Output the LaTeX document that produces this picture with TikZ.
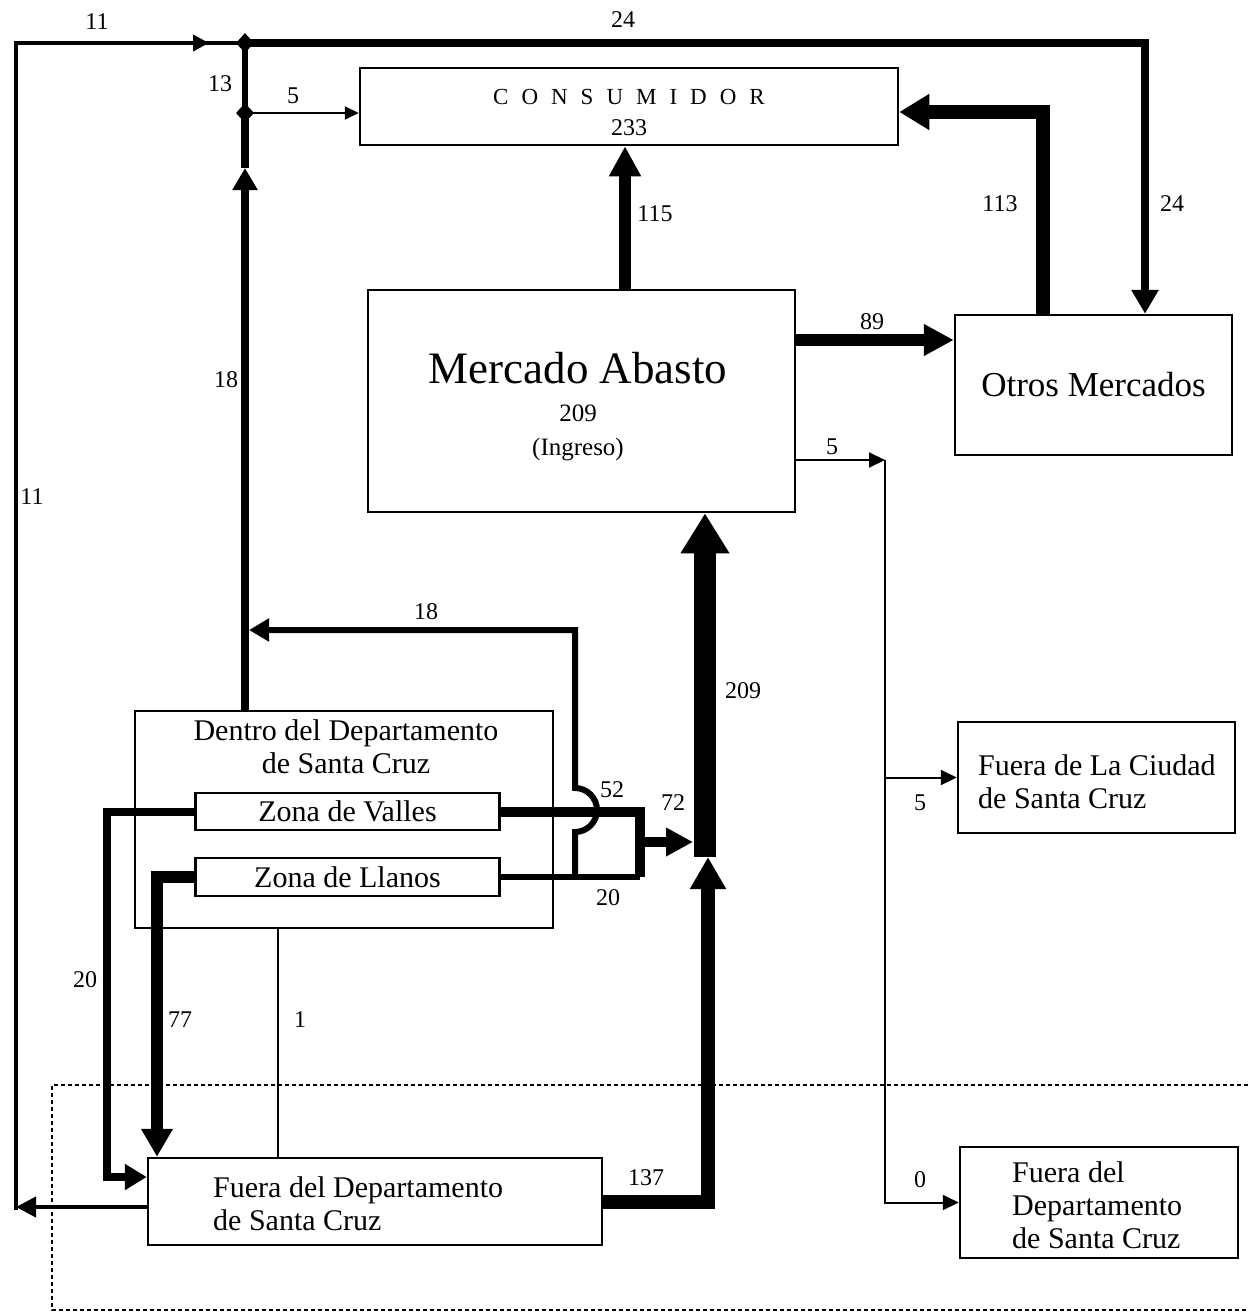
\documentclass[tikz,border=0pt]{standalone}
\usepackage{fontspec}
\setmainfont{Liberation Serif}
\usetikzlibrary{arrows.meta,shapes.geometric,calc}
\newcommand\cspc{\kern 13pt}
\begin{document}
\begin{tikzpicture}[x=1pt,y=-1pt,line join=miter,
  box/.style={draw,line width=2.5,inner sep=0},
  lab/.style={font=\fontsize{24}{28}\selectfont,inner sep=0},
  btext/.style={font=\fontsize{30}{33}\selectfont,inner sep=0},
  fl/.style={line width=#1},
  tip/.style 2 args={-{Triangle[length=#1pt,width=#2pt]}},
  junct/.style={diamond,fill,inner sep=0,minimum width=18,minimum height=20},
  frame/.style={line width=1.5,dash pattern=on 4pt off 3pt}]
\useasboundingbox (0,0) rectangle (1248,1314);

% ---------- boxes ----------
\node[box,minimum width=538,minimum height=77] (cons) at (629,106.5) {};
\node[inner sep=0,font=\fontsize{23}{26}\selectfont] (consT) at (629,97) {C\cspc O\cspc N\cspc S\cspc U\cspc M\cspc I\cspc D\cspc O\cspc R};
\node[lab] (consN) at (629,128) {233};

\node[box,minimum width=427,minimum height=222] (merc) at (581.5,401) {};
\node[inner sep=0,font=\fontsize{45}{50}\selectfont] (mercT) at (578,368) {Mercado Abasto};
\node[inner sep=0,font=\fontsize{25}{28}\selectfont] (mercN) at (578,413) {209};
\node[inner sep=0,font=\fontsize{25}{28}\selectfont] (mercI) at (578,450) {(Ingreso)};

\node[box,minimum width=277,minimum height=140,font=\fontsize{35}{40}\selectfont] (otros) at (1093.5,385) {Otros Mercados};

\node[box,minimum width=418,minimum height=217] (dentro) at (344,819.5) {};
\node[btext,align=center] (dentroT) at (346,747) {Dentro del Departamento\\de Santa Cruz};
\node[box,minimum width=304,minimum height=37,btext] (valles) at (347.5,811.5) {Zona de Valles};
\node[box,minimum width=304,minimum height=38,btext] (llanos) at (347.5,877) {Zona de Llanos};

\node[box,minimum width=454,minimum height=87] (fuera1) at (375,1201.5) {};
\node[btext,align=left,anchor=west] (fuera1T) at (213,1204) {Fuera del Departamento\\de Santa Cruz};

\node[box,minimum width=277,minimum height=111] (ciudad) at (1096.5,777.5) {};
\node[btext,align=left,anchor=west] (ciudadT) at (978,782) {Fuera de La Ciudad\\de Santa Cruz};

\node[box,minimum width=278,minimum height=111] (fuera2) at (1099,1202.5) {};
\node[btext,align=left,anchor=west] (fuera2T) at (1012,1205) {Fuera del\\Departamento\\de Santa Cruz};

% ---------- coordinates ----------
\coordinate (J1) at (245,43);
\coordinate (J2) at (245,113);
\coordinate (TL) at (16,43);
\coordinate (BL) at (16,1207);
\coordinate (A18) at ($(J2)+(0,55)$);
\coordinate (L0) at (575,877);
\coordinate (L3) at (575,630);
\coordinate (K1) at (640,812);
\coordinate (K3) at (640,842);
\coordinate (B209) at (705,857);
\coordinate (C137) at (708,857);
\coordinate (P5) at (885,460);
\coordinate (V20) at (107,0);
\coordinate (V77) at (157,0);

% ---------- connectors ----------
% 11 (left loop)
\draw[fl=4,tip={20}{20}] ([yshift=-5.5]fuera1.west) -- (BL);
\draw[fl=4] ([yshift=-3]BL) -- (TL) -- (J1);
\draw[fl=4,tip={16}{16}] (TL) -- ([xshift=-36]J1);
% 13
\draw[fl=6] (J2) -- (J1);
% 24
\draw[fl=8,tip={24}{26}] (J1) -| ([xshift=51.5]otros.north);
% 5 to consumidor
\draw[fl=2,tip={14}{13}] (J2) -- (J2 -| cons.west);
% 18 vertical
\draw[fl=8,tip={22}{24}] ([xshift=-99]dentro.north) -- (A18);
\draw[fl=8] (A18) -- (J2);
% 18 loop with hop
\draw[fl=6,tip={20}{22}] (L0) -- (575,832) .. controls (587.1,832) and (597,822.1) .. (597,810)
  .. controls (597,797.9) and (587.1,788) .. (575,788) -- (L3) -- ([xshift=4]L3 -| A18);
% 52 and 20 to 72
\draw[fl=10] (valles.east) -- (valles.east -| K1) -- (K1 |- llanos.east);
\draw[fl=6] (llanos.east) -- (llanos.east -| K1);
\draw[fl=10,tip={27}{27}] (K3) -- ([xshift=-12]K3 -| B209);
% 209
\draw[fl=22,tip={40}{46}] (B209) -- (B209 |- merc.south);
% 137
\draw[fl=14,tip={32}{34}] (fuera1.east) -| (C137);
% 5 from Mercado
\draw[fl=2,tip={16}{15}] ([yshift=-59]merc.east) -- (P5);
\draw[fl=2,tip={16}{15}] (P5) |- (fuera2.west);
\draw[fl=2,tip={16}{15}] (P5 |- ciudad.west) -- (ciudad.west);
% 89
\draw[fl=12,tip={30}{30}] ([yshift=61]merc.east) -- ([yshift=61]merc.east -| otros.west);
% 113
\draw[fl=14,tip={30}{34}] ([xshift=-50.5]otros.north) |- ([yshift=-5.5]cons.east);
% 115
\draw[fl=12,tip={30}{30}] ([xshift=43.5]merc.north) -- ([xshift=43.5]merc.north |- cons.south);
% 20 (Valles to Fuera)
\draw[fl=8,tip={22}{25}] (valles.west) -- (valles.west -| V20) |- ([yshift=24.5]fuera1.west);
% 77 (Llanos to Fuera)
\draw[fl=12,tip={28}{30}] (llanos.west) -- (llanos.west -| V77) -- (V77 |- fuera1.north);
% 1
\draw[fl=2] ([xshift=-66]dentro.south) -- ([xshift=-66]dentro.south |- fuera1.north);

% junction marks
\node[junct] (d1) at (J1) {};
\node[junct] (d2) at (J2) {};

% dashed frame
\coordinate (F1) at (1248,1085);
\coordinate (F2) at (52,1085);
\coordinate (F3) at (52,1310);
\coordinate (F4) at (1248,1310);
\draw[frame] (F1) -- (F2) -- (F3) -- (F4);

% ---------- labels ----------
\node[lab] (l11a) at (97,22) {11};
\node[lab] (l24a) at (623,20) {24};
\node[lab] (l13) at (220,84) {13};
\node[lab] (l5a) at (293,96) {5};
\node[lab] (l115) at (655,214) {115};
\node[lab] (l113) at (1000,204) {113};
\node[lab] (l24b) at (1172,204) {24};
\node[lab] (l89) at (872,322) {89};
\node[lab] (l18a) at (226,380) {18};
\node[lab] (l11b) at (32,497) {11};
\node[lab] (l5b) at (832,447) {5};
\node[lab] (l18b) at (426,612) {18};
\node[lab] (l209) at (743,691) {209};
\node[lab] (l52) at (612,790) {52};
\node[lab] (l72) at (673,803) {72};
\node[lab] (l20a) at (608,898) {20};
\node[lab] (l5c) at (920,803) {5};
\node[lab] (l20b) at (85,980) {20};
\node[lab] (l77) at (180,1020) {77};
\node[lab] (l1) at (300,1020) {1};
\node[lab] (l137) at (646,1178) {137};
\node[lab] (l0) at (920,1180) {0};
\end{tikzpicture}
\end{document}
